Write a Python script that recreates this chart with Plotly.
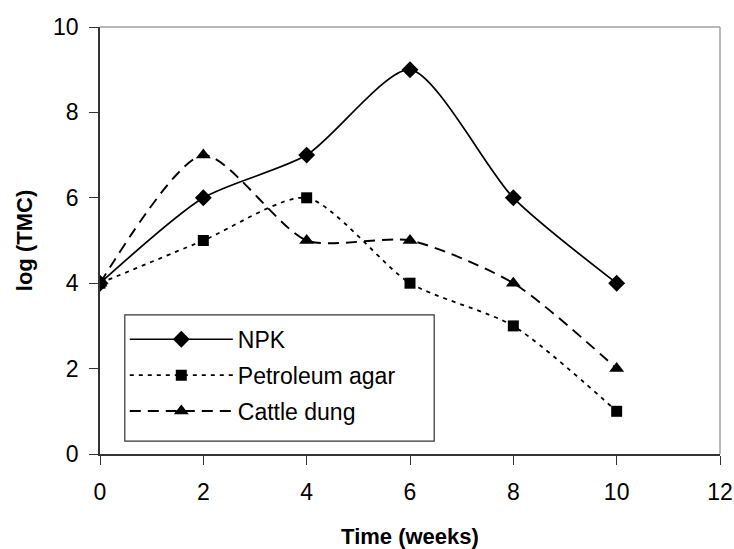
import plotly.graph_objects as go

weeks = [0, 2, 4, 6, 8, 10]
npk = [4, 6, 7, 9, 6, 4]
petroleum_agar = [4, 5, 6, 4, 3, 1]
cattle_dung = [4, 7, 5, 5, 4, 2]
x_ticks = [0, 2, 4, 6, 8, 10, 12]
y_ticks = [0, 2, 4, 6, 8, 10]

FONT = "Liberation Sans, Arial, sans-serif"
SMOOTH = 0.7

fig = go.Figure()
fig.add_trace(go.Scatter(x=weeks, y=npk, name="NPK", mode="lines+markers", legendgroup="a",
                         line=dict(color="black", width=1.7, shape="spline", smoothing=SMOOTH),
                         marker=dict(symbol="diamond", size=13, color="black")))
fig.add_trace(go.Scatter(x=weeks, y=petroleum_agar, name="Petroleum agar", mode="lines+markers",
                         legendgroup="b",
                         line=dict(color="black", width=1.8, shape="spline", smoothing=SMOOTH,
                                   dash="4px,5px"),
                         marker=dict(symbol="square", size=11, color="black")))
fig.add_trace(go.Scatter(x=weeks, y=cattle_dung, name="Cattle dung", mode="lines+markers",
                         legendgroup="c",
                         line=dict(color="black", width=1.9, shape="spline", smoothing=SMOOTH,
                                   dash="11px,7px"),
                         marker=dict(symbol="triangle-up", size=13, color="black")))

fig.update_layout(
    width=734, height=549,
    margin=dict(l=100, r=14, t=27, b=95, autoexpand=False),
    paper_bgcolor="white", plot_bgcolor="white",
    font=dict(family=FONT, size=23, color="black"),
    showlegend=True,
    legend=dict(x=0.04, y=0.319, xanchor="left", yanchor="top",
                borderwidth=0, bgcolor="rgba(0,0,0,0)",
                font=dict(size=23), itemwidth=103, tracegroupgap=3),
    xaxis=dict(range=[0, 12], tickvals=x_ticks, showgrid=False, automargin=False,
               showline=True, linecolor="#333", linewidth=1.5,
               ticks="outside", ticklen=9, tickcolor="#333", tickwidth=1.2,
               ticklabelstandoff=8, ticklabeloverflow="allow",
               title=dict(text="<b>Time (weeks)</b>", font=dict(size=22), standoff=30),
               zeroline=False),
    yaxis=dict(range=[0, 10], tickvals=y_ticks, showgrid=False, automargin=False,
               showline=True, linecolor="#333", linewidth=1.5,
               ticks="outside", ticklen=9, tickcolor="#333", tickwidth=1.2,
               ticklabelstandoff=6,
               title=dict(text="<b>log (TMC)</b>", font=dict(size=22), standoff=14),
               zeroline=False),
)
# gray top and right frame
fig.add_shape(type="line", xref="paper", yref="paper", x0=0, x1=1, y0=1, y1=1,
              line=dict(color="#a0a0a0", width=1.5))
fig.add_shape(type="line", xref="paper", yref="paper", x0=1, x1=1, y0=0, y1=1,
              line=dict(color="#a0a0a0", width=1.5))
# legend frame
fig.add_shape(type="rect", xref="paper", yref="paper", x0=0.04, x1=0.539, y0=0.030, y1=0.326,
              line=dict(color="#333", width=1.2), fillcolor="rgba(0,0,0,0)", layer="above")

fig.write_html("out.html", config={"displayModeBar": False},
               post_script="document.body.style.margin='0';document.body.style.overflow='hidden';")
